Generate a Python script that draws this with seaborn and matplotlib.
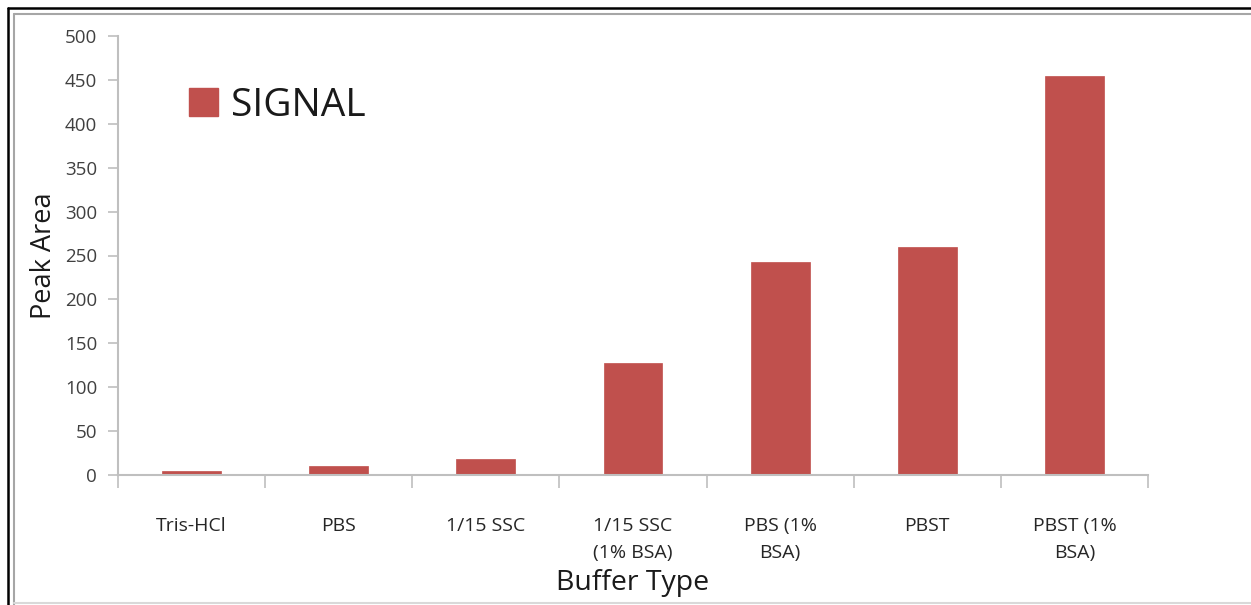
import matplotlib
matplotlib.use("Agg")
import matplotlib.pyplot as plt
from matplotlib.lines import Line2D
from matplotlib.patches import Patch
import seaborn as sns
import pandas as pd

categories = ["Tris-HCl", "PBS", "1/15 SSC", "1/15 SSC\n(1% BSA)", "PBS (1%\nBSA)", "PBST", "PBST (1%\nBSA)"]
signal = [5, 10.5, 18.5, 128, 243, 260, 454]
y_ticks = [0, 50, 100, 150, 200, 250, 300, 350, 400, 450, 500]

df = pd.DataFrame({"Buffer": categories, "Peak": signal})

sns.set_theme(style="white")
plt.rcParams['font.family'] = ['Open Sans', 'DejaVu Sans']

W, H = 1251, 605
fig = plt.figure(figsize=(W / 100, H / 100), dpi=100)
ax = fig.add_axes([118 / W, 1 - 475 / H, (1148 - 118) / W, (475 - 36) / H])

bar_color = "#c0504d"
sns.barplot(data=df, x="Buffer", y="Peak", ax=ax, color=bar_color, width=0.4,
            saturation=1, edgecolor=bar_color, linewidth=0.5)

ax.set_xlim(-0.5, len(categories) - 0.5)
ax.set_ylim(0, 500)
ax.set_yticks(y_ticks)
ax.set_yticklabels([str(v) for v in y_ticks], fontsize=13.5, color="#404040")
ax.set_xticks(range(len(categories)))
ax.set_xticklabels(categories, fontsize=14, color="#262626", linespacing=1.7)
ax.tick_params(axis="x", length=0, pad=30)
ax.tick_params(axis="y", length=7, width=1.2, color="#bfbfbf", pad=8, left=True)
# category boundary ticks
ax.set_xticks([i - 0.5 for i in range(len(categories) + 1)], minor=True)
ax.tick_params(axis="x", which="minor", length=9, width=1.2, color="#bfbfbf", bottom=True)

for s in ["top", "right"]:
    ax.spines[s].set_visible(False)
for s in ["left", "bottom"]:
    ax.spines[s].set_color("#bfbfbf")
    ax.spines[s].set_linewidth(1.5)

ax.set_xlabel("")
ax.set_ylabel("")
fig.text(44 / W, 1 - 256 / H, "Peak Area", rotation=90, fontsize=19.5, color="#1a1a1a",
         ha="center", va="center")
fig.text(633 / W, 1 - 583 / H, "Buffer Type", fontsize=20.5, color="#1a1a1a",
         ha="center", va="center")

handles = [Patch(facecolor=bar_color, edgecolor=bar_color, label="SIGNAL")]
leg = ax.legend(handles=handles, loc="upper left", bbox_to_anchor=(55 / 1030, 1 - 35 / 439),
                frameon=False, fontsize=28, handlelength=0.75, handleheight=0.75,
                handletextpad=0.35, borderaxespad=0)
for t in leg.get_texts():
    t.set_color("#1a1a1a")

# outer frame
fig.add_artist(Line2D([8 / W, 1], [1 - 8 / H, 1 - 8 / H], color="black", lw=1.8, transform=fig.transFigure))
fig.add_artist(Line2D([8 / W, 8 / W], [0, 1 - 8 / H], color="black", lw=1.8, transform=fig.transFigure))
fig.add_artist(Line2D([14 / W, 1], [1 - 14 / H, 1 - 14 / H], color="#a6a6a6", lw=1.5, transform=fig.transFigure))
fig.add_artist(Line2D([14 / W, 14 / W], [0, 1 - 14 / H], color="#a6a6a6", lw=1.5, transform=fig.transFigure))
fig.add_artist(Line2D([14 / W, 1], [1 - 603 / H, 1 - 603 / H], color="#d9d9d9", lw=1.5, transform=fig.transFigure))

fig.savefig("out.png", dpi=100)
